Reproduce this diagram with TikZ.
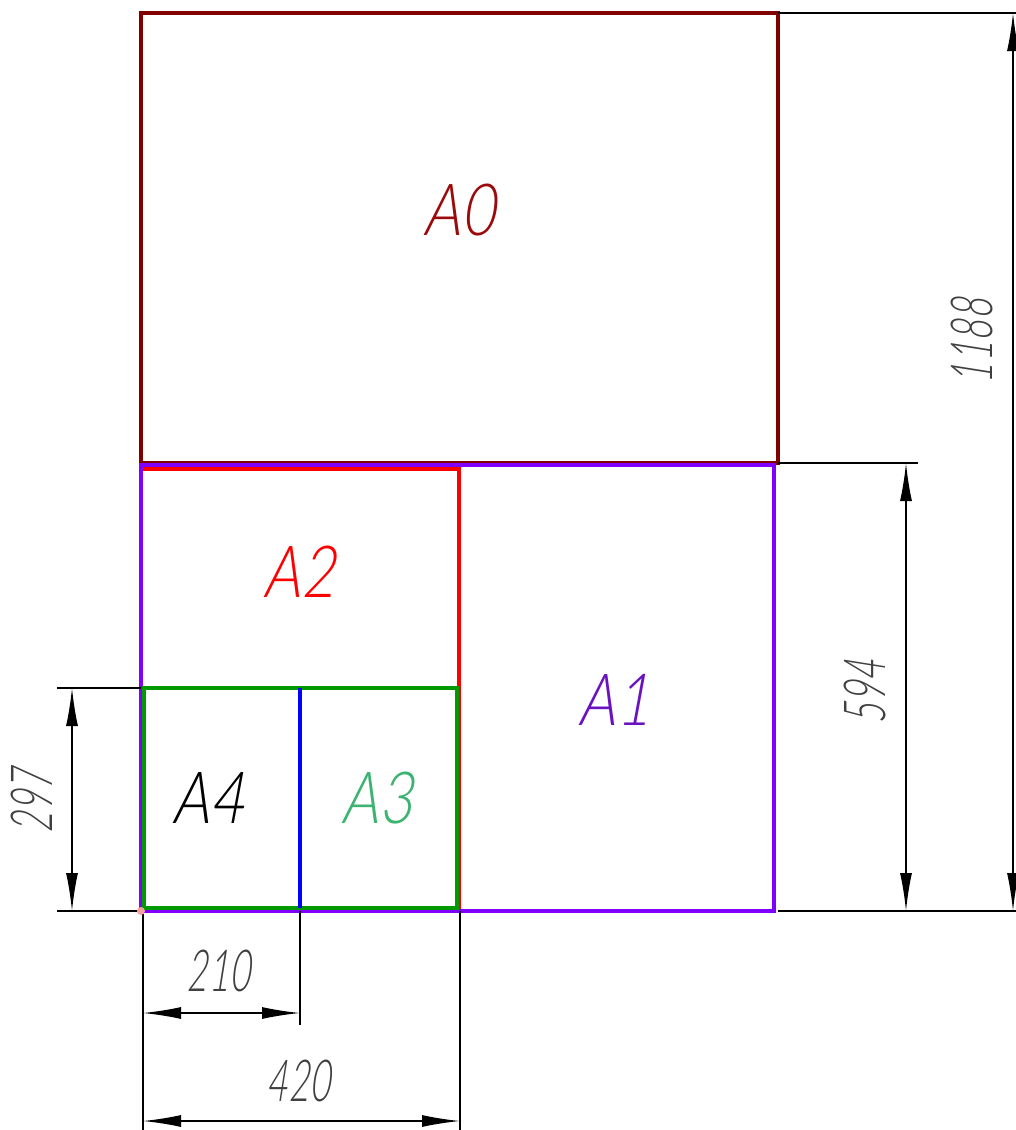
\documentclass[tikz,border=0pt]{standalone}
\usepackage{fontspec}
\usetikzlibrary{arrows.meta}
\newfontfamily\gostlbl[FakeStretch=0.85,FakeSlant=0.08]{Lato Light Italic}
\newfontfamily\gostdim[FakeStretch=0.64,FakeSlant=0.08]{Lato Light Italic}
\definecolor{czero}{HTML}{800000}
\definecolor{czerotxt}{HTML}{9B0A0A}
\definecolor{cone}{HTML}{8000FF}
\definecolor{conetxt}{HTML}{6A12C0}
\definecolor{ctwo}{HTML}{FF0000}
\definecolor{cthree}{HTML}{009A00}
\definecolor{cthreetxt}{HTML}{3CB371}
\definecolor{cblue}{HTML}{0000FF}
\definecolor{cdimtxt}{HTML}{404040}
\definecolor{corig}{HTML}{F4A0A0}
\begin{document}
\begin{tikzpicture}[x=1pt,y=-1pt,
  frame/.style={line width=3.6pt, line join=miter},
  extline/.style={line width=1.5pt, black},
  dimarrow/.style={line width=1.6pt, black,
    {Latex[length=38pt,width=12pt]}-{Latex[length=38pt,width=12pt]}},
  lbl/.style={font=\gostlbl\fontsize{72}{72}\selectfont, inner sep=0pt},
  dimtxt/.style={font=\gostdim\fontsize{58}{58}\selectfont, text=cdimtxt, inner sep=0pt},
]
\useasboundingbox (0,0) rectangle (1016,1130);

% sheet frames
\draw[frame, czero, line width=3.2pt] (141,13) rectangle (778,463);
\draw[frame, ctwo] (141,469) rectangle (459,910);
\draw[frame, cone] (141,465) rectangle (774,911);
\draw[frame, cthree] (144,688) rectangle (457,908);
\coordinate (bt) at (300,688);
\coordinate (bb) at (300,908);
\draw[frame, cblue] (bt) -- (bb);

% extension line end points
\coordinate (e1a) at (778,13);   \coordinate (e1b) at (1016,13);
\coordinate (e2a) at (778,911);  \coordinate (e2b) at (1016,911);
\coordinate (e3a) at (778,463);  \coordinate (e3b) at (918,463);
\coordinate (e4a) at (57,688);   \coordinate (e4b) at (141,688);
\coordinate (e5a) at (57,911);   \coordinate (e5b) at (141,911);
\coordinate (e6a) at (143,911);  \coordinate (e6b) at (143,1130);
\coordinate (e7a) at (300,911);  \coordinate (e7b) at (300,1025);
\coordinate (e8a) at (460,911);  \coordinate (e8b) at (460,1130);
\foreach \p in {1,...,8} \draw[extline] (e\p a) -- (e\p b);

% dimension lines
\coordinate (d1a) at (1013,13);  \coordinate (d1b) at (1013,911);
\coordinate (d2a) at (906,463);  \coordinate (d2b) at (906,911);
\coordinate (d3a) at (72,688);   \coordinate (d3b) at (72,911);
\coordinate (d4a) at (143,1013); \coordinate (d4b) at (300,1013);
\coordinate (d5a) at (143,1121); \coordinate (d5b) at (460,1121);
\foreach \p in {1,...,5} \draw[dimarrow] (d\p a) -- (d\p b);

% origin marker
\fill[corig] (141,911) circle (4pt);

% labels
\node[lbl, text=czerotxt] (la0) at (462,210) {A0};
\node[lbl, text=conetxt] (la1) at (617,700) {A1};
\node[lbl, text=ctwo] (la2) at (302,572) {A2};
\node[lbl, text=cthreetxt] (la3) at (380,798) {A3};
\node[lbl, text=black] (la4) at (211,798) {A4};

% dimension values
\node[dimtxt, rotate=90] (t1188) at (972,340) {1188};
\node[dimtxt, rotate=90] (t594) at (865,691) {594};
\node[dimtxt, rotate=90] (t297) at (32,800) {297};
\node[dimtxt] (t210) at (220,971) {210};
\node[dimtxt] (t420) at (300,1081) {420};
\end{tikzpicture}
\end{document}
